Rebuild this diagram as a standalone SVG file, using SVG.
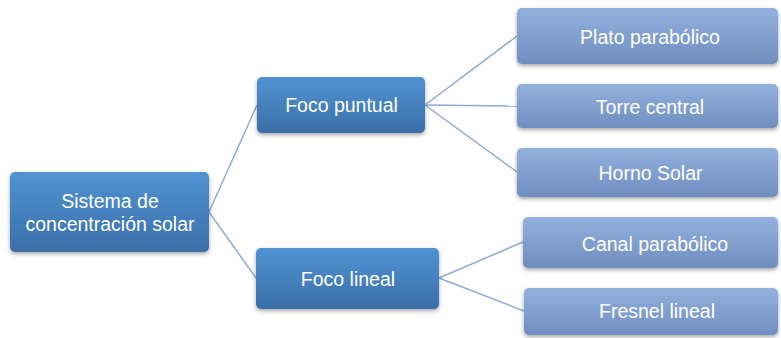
<svg xmlns="http://www.w3.org/2000/svg" width="781" height="338" viewBox="0 0 781 338">
<defs>
<linearGradient id="g1" x1="0" y1="0" x2="0" y2="1">
<stop offset="0" stop-color="#5093D3"/>
<stop offset="1" stop-color="#3B6FA9"/>
</linearGradient>
<linearGradient id="g2" x1="0" y1="0" x2="0" y2="1">
<stop offset="0" stop-color="#93B1DE"/>
<stop offset="1" stop-color="#6F8EBF"/>
</linearGradient>
<filter id="sh" x="-10%" y="-20%" width="120%" height="150%">
<feDropShadow dx="0" dy="2" stdDeviation="2" flood-color="#000" flood-opacity="0.35"/>
</filter>
</defs>
<style>
.l1{fill:url(#g1);filter:url(#sh);}
.l2{fill:url(#g2);filter:url(#sh);}
text{font-family:"Liberation Sans",Arial,sans-serif;font-size:19.5px;fill:#fff;text-anchor:middle;}
.c{stroke:#8EA9D6;stroke-width:1.5;fill:none;}
</style>
<rect width="781" height="338" fill="#fff"/>
<g id="connectors">
<line class="c" x1="209" y1="212" x2="257" y2="105"/>
<line class="c" x1="209" y1="212" x2="256" y2="278"/>
<line class="c" x1="425" y1="105" x2="517" y2="36"/>
<line class="c" x1="425" y1="105" x2="517" y2="106"/>
<line class="c" x1="425" y1="105" x2="517" y2="172"/>
<line class="c" x1="439" y1="278" x2="523" y2="242"/>
<line class="c" x1="439" y1="278" x2="524" y2="311"/>
</g>
<g id="root">
<rect class="l1" x="10" y="172" width="199" height="80" rx="5"/>
<text x="110" y="208">Sistema de</text>
<text x="110" y="231">concentración solar</text>
</g>
<g id="foco-puntual">
<rect class="l1" x="257" y="77" width="168" height="56" rx="5"/>
<text x="341.5" y="112">Foco puntual</text>
</g>
<g id="foco-lineal">
<rect class="l1" x="256" y="248" width="183" height="61" rx="5"/>
<text x="348" y="286">Foco lineal</text>
</g>
<g id="plato">
<rect class="l2" x="517" y="8" width="261" height="56" rx="5"/>
<text x="650" y="44">Plato parabólico</text>
</g>
<g id="torre">
<rect class="l2" x="517" y="84" width="261" height="44" rx="5"/>
<text x="650" y="114">Torre central</text>
</g>
<g id="horno">
<rect class="l2" x="517" y="148" width="261" height="49" rx="5"/>
<text x="650.5" y="180">Horno Solar</text>
</g>
<g id="canal">
<rect class="l2" x="523" y="217" width="255" height="51" rx="5"/>
<text x="655" y="251">Canal parabólico</text>
</g>
<g id="fresnel">
<rect class="l2" x="524" y="288" width="254" height="47" rx="5"/>
<text x="657" y="318">Fresnel lineal</text>
</g>
</svg>
